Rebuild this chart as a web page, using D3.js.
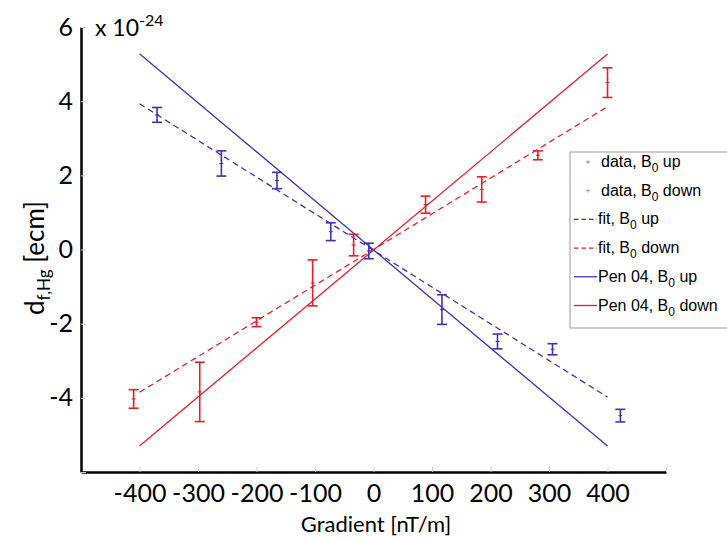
<!DOCTYPE html>
<html><head><meta charset="utf-8">
<script src="https://cdn.jsdelivr.net/npm/d3@7"></script>
<style>body{margin:0;background:#fff}</style></head>
<body><svg id="c" width="727" height="539"></svg>
<script>
// data, B0 up
const upX = [-370, -260, -165, -73, -8, 117, 212, 306, 422];
const upY = [3.63, 2.32, 1.86, 0.48, -0.04, -1.62, -2.48, -2.69, -4.48];
const upErr = [0.2, 0.34, 0.22, 0.24, 0.21, 0.4, 0.2, 0.15, 0.17];
// data, B0 down
const downX = [-410, -297, -200, -104, -34, 89, 185, 281, 400];
const downY = [-4.03, -3.84, -1.96, -0.9, 0.12, 1.21, 1.62, 2.54, 4.5];
const downErr = [0.25, 0.8, 0.12, 0.62, 0.29, 0.23, 0.34, 0.12, 0.4];
// lines
const lineX = [-400, 400];
const fitUpY = [3.93, -3.98];
const fitDownY = [-3.85, 3.85];
const penUpY = [5.28, -5.3];
const penDownY = [-5.3, 5.27];
const xTicks = [-500, -400, -300, -200, -100, 0, 100, 200, 300, 400, 500];
const xTickLabels = ["", "-400", "-300", "-200", "-100", "0", "100", "200", "300", "400", ""];
const yTicks = [-6, -4, -2, 0, 2, 4, 6];
const yTickLabels = ["", "-4", "-2", "0", "2", "4", "6"];

const BLUE = "#3f31b5", RED = "#e51f2a";
const svg = d3.select("#c");
const x = d3.scaleLinear().domain([-500, 500]).range([81, 666]);
const y = d3.scaleLinear().domain([-6, 6]).range([472, 27]);
const tickFont = "Lato, 'Open Sans', sans-serif";

// axes
const gx = svg.append("g").attr("transform", `translate(0,${y(-6)})`)
  .call(d3.axisBottom(x).tickValues(xTicks).tickSizeInner(-5).tickSizeOuter(0)
    .tickFormat((d, i) => xTickLabels[i]));
gx.select(".domain").attr("stroke", "#000").attr("stroke-width", 2.5);
gx.selectAll(".tick line").attr("stroke", "#ccc");
gx.selectAll(".tick text").attr("font-family", tickFont).attr("font-size", 25)
  .attr("fill", "#000").attr("y", 30).attr("dy", null);

const gy = svg.append("g").attr("transform", `translate(${x(-500)},0)`)
  .call(d3.axisLeft(y).tickValues(yTicks).tickSizeInner(-5).tickSizeOuter(0)
    .tickFormat((d, i) => yTickLabels[i]));
gy.select(".domain").attr("stroke", "#000").attr("stroke-width", 2.5);
gy.selectAll(".tick line").attr("stroke", "#ccc");
gy.selectAll(".tick text").attr("font-family", tickFont).attr("font-size", 25)
  .attr("fill", "#000").attr("x", -8);

// exponent label
const ex = svg.append("text").attr("x", 95).attr("y", 36)
  .attr("font-family", tickFont).attr("font-size", 23).attr("fill", "#000");
ex.append("tspan").text("x 10");
ex.append("tspan").attr("dy", -10).attr("font-size", 16).text("-24");

// axis titles
svg.append("text").attr("x", 376).attr("y", 532).attr("text-anchor", "middle")
  .attr("font-family", tickFont).attr("font-size", 22).attr("fill", "#000")
  .text("Gradient [nT/m]");
const yl = svg.append("text").attr("transform", "translate(44,258) rotate(-90)")
  .attr("text-anchor", "middle").attr("font-family", tickFont)
  .attr("font-size", 26).attr("fill", "#000");
yl.append("tspan").text("d");
yl.append("tspan").attr("dy", 6).attr("font-size", 17).text("f,Hg");
yl.append("tspan").attr("dy", -6).text(" [ecm]");

// lines
const line = d3.line().x(d => x(d[0])).y(d => y(d[1]));
function drawLine(ys, color, dash) {
  svg.append("path").datum(lineX.map((v, i) => [v, ys[i]]))
    .attr("d", line).attr("fill", "none").attr("stroke", color)
    .attr("stroke-width", 1.3).attr("stroke-dasharray", dash ? "6,4" : null);
}
drawLine(penUpY, BLUE, false);
drawLine(penDownY, RED, false);
drawLine(fitUpY, BLUE, true);
drawLine(fitDownY, RED, true);

// error bars
function drawErr(xs, ys, es, color) {
  const g = svg.append("g").attr("stroke", color).attr("stroke-width", 1.6).attr("fill", "none");
  xs.forEach((xv, i) => {
    const cx = x(xv), t = y(ys[i] + es[i]), b = y(ys[i] - es[i]), c = y(ys[i]);
    g.append("line").attr("x1", cx).attr("x2", cx).attr("y1", t).attr("y2", b);
    g.append("line").attr("x1", cx - 5).attr("x2", cx + 5).attr("y1", t).attr("y2", t);
    g.append("line").attr("x1", cx - 5).attr("x2", cx + 5).attr("y1", b).attr("y2", b);
    g.append("line").attr("x1", cx - 2).attr("x2", cx + 2).attr("y1", c).attr("y2", c).attr("stroke-width", 1);
  });
}
drawErr(upX, upY, upErr, BLUE);
drawErr(downX, downY, downErr, RED);

// legend
const lg = svg.append("g");
lg.append("rect").attr("x", 570).attr("y", 152).attr("width", 170).attr("height", 176)
  .attr("fill", "#fff").attr("stroke", "#999").attr("stroke-width", 1);
const legItems = [
  {label: "data, B", sub: "0", rest: " up", color: BLUE, type: "marker"},
  {label: "data, B", sub: "0", rest: " down", color: RED, type: "marker"},
  {label: "fit, B", sub: "0", rest: " up", color: BLUE, type: "dash"},
  {label: "fit, B", sub: "0", rest: " down", color: RED, type: "dash"},
  {label: "Pen 04, B", sub: "0", rest: " up", color: BLUE, type: "solid"},
  {label: "Pen 04, B", sub: "0", rest: " down", color: RED, type: "solid"}
];
legItems.forEach((it, i) => {
  const cy = 162 + i * 28.7;
  if (it.type === "marker") {
    lg.append("line").attr("x1", 586).attr("x2", 590).attr("y1", cy).attr("y2", cy).attr("stroke", it.color).attr("stroke-opacity", 0.5);
    lg.append("line").attr("x1", 588).attr("x2", 588).attr("y1", cy - 2).attr("y2", cy + 2).attr("stroke", it.color).attr("stroke-opacity", 0.5);
  } else {
    lg.append("line").attr("x1", 574).attr("x2", 597).attr("y1", cy).attr("y2", cy)
      .attr("stroke", it.color).attr("stroke-width", 1.3)
      .attr("stroke-dasharray", it.type === "dash" ? "4.5,3" : null);
  }
  const t = lg.append("text").attr("x", it.type === "marker" ? 601 : 598).attr("y", cy + 5)
    .attr("font-family", "'Liberation Sans', Arial, sans-serif").attr("font-size", 16).attr("fill", "#000");
  t.append("tspan").text(it.label);
  t.append("tspan").attr("dy", 5).attr("font-size", 12).text(it.sub);
  t.append("tspan").attr("dy", -5).text(it.rest);
});
</script></body></html>
